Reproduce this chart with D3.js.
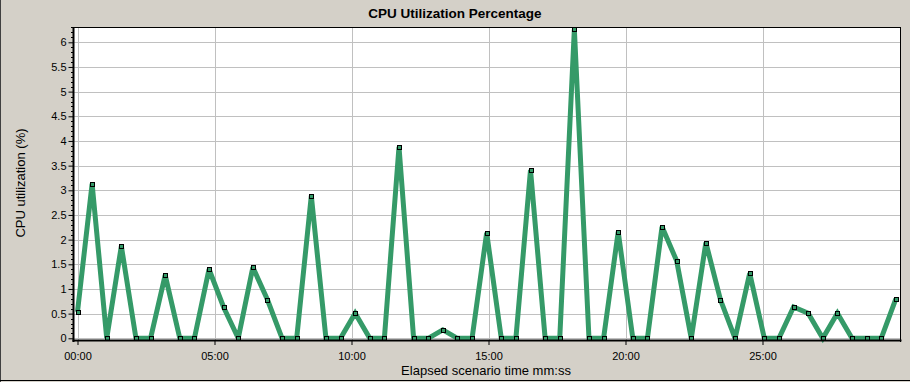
<!DOCTYPE html>
<html>
<head>
<meta charset="utf-8">
<script src="https://cdn.jsdelivr.net/npm/d3@7/dist/d3.min.js"></script>
<style>
  html, body { margin: 0; padding: 0; background: #d4d0c8; }
  svg { display: block; }
  text { font-family: Arial, "Liberation Sans", sans-serif; fill: #000; }
</style>
</head>
<body>
<svg id="chart" width="910" height="382"></svg>
<script>
// ---- data ----
const title = "CPU Utilization Percentage";
const xLabel = "Elapsed scenario time mm:ss";
const yLabel = "CPU utilization (%)";
const sampleIntervalSec = 32;
const cpuValues = [
  0.54, 3.13, 0, 1.87, 0, 0, 1.28, 0, 0, 1.40, 0.63, 0, 1.44, 0.78, 0, 0, 2.89,
  0, 0, 0.51, 0, 0, 3.88, 0, 0, 0.17, 0, 0, 2.14, 0, 0, 3.41, 0, 0,
  6.26, 0, 0, 2.16, 0, 0, 2.26, 1.57, 0, 1.94, 0.78, 0, 1.32, 0, 0, 0.635, 0.51, 0, 0.51, 0, 0, 0, 0.80
];
const xTickSeconds = [0, 300, 600, 900, 1200, 1500];
const xTickLabels = ["00:00", "05:00", "10:00", "15:00", "20:00", "25:00"];
const yTicks = [0, 0.5, 1, 1.5, 2, 2.5, 3, 3.5, 4, 4.5, 5, 5.5, 6];
const yTickLabels = ["0", "0.5", "1", "1.5", "2", "2.5", "3", "3.5", "4", "4.5", "5", "5.5", "6"];

const points = cpuValues.map((v, i) => ({ t: i * sampleIntervalSec, v }));

// ---- layout ----
const svg = d3.select("#chart");
const W = 910, H = 382;
const plot = { left: 74, top: 28, right: 900, bottom: 340 };

const x = d3.scaleLinear().domain([0, 1800]).range([77.5, 899.5]);
const y = d3.scaleLinear().domain([0, 6]).range([338.3, 42.3]);

// outer frame lines
svg.append("rect").attr("x", 0).attr("y", 0).attr("width", W).attr("height", H).attr("fill", "#d4d0c8");
svg.append("line").attr("x1", 0.5).attr("x2", 0.5).attr("y1", 0).attr("y2", H).attr("stroke", "#404040");
svg.append("line").attr("x1", 0).attr("x2", W).attr("y1", 380.5).attr("y2", 380.5).attr("stroke", "#000");

// plot background
svg.append("rect")
  .attr("x", plot.left).attr("y", plot.top)
  .attr("width", plot.right - plot.left).attr("height", plot.bottom - plot.top)
  .attr("fill", "#fff");

// grid
const grid = svg.append("g").attr("shape-rendering", "crispEdges");
grid.selectAll("line.h").data(yTicks).join("line")
  .attr("x1", plot.left).attr("x2", plot.right)
  .attr("y1", d => Math.round(y(d)) + 0.5).attr("y2", d => Math.round(y(d)) + 0.5)
  .attr("stroke", "#c0c0c0").attr("stroke-width", 1);
grid.selectAll("line.v").data(xTickSeconds).join("line")
  .attr("x1", d => Math.round(x(d)) + 0.5).attr("x2", d => Math.round(x(d)) + 0.5)
  .attr("y1", plot.top).attr("y2", plot.bottom)
  .attr("stroke", "#c0c0c0").attr("stroke-width", 1);

// data line
const line = d3.line().x(d => x(d.t)).y(d => y(d.v));
svg.append("path")
  .datum(points)
  .attr("d", line)
  .attr("fill", "none")
  .attr("stroke", "#359a68")
  .attr("stroke-width", 5)
  .attr("stroke-linejoin", "miter")
  .attr("stroke-miterlimit", 2);

// markers
svg.append("g").selectAll("rect").data(points).join("rect")
  .attr("x", d => Math.round(x(d.t)) - 2 + 0.5)
  .attr("y", d => Math.round(y(d.v)) - 2 + 0.5)
  .attr("width", 4).attr("height", 4)
  .attr("fill", "#359a68").attr("stroke", "#000").attr("stroke-width", 1)
  .attr("shape-rendering", "crispEdges");

// frame
const frame = svg.append("g").attr("shape-rendering", "crispEdges");
frame.append("line").attr("x1", plot.left).attr("x2", plot.right + 1)
  .attr("y1", 27.5).attr("y2", 27.5).attr("stroke", "#000");
frame.append("line").attr("x1", 900.5).attr("x2", 900.5)
  .attr("y1", 27).attr("y2", 342).attr("stroke", "#000");

// y axis
const yAxis = d3.axisLeft(y).tickValues(yTicks)
  .tickFormat((d, i) => yTickLabels[i]).tickSize(5).tickPadding(2);
const yg = svg.append("g").attr("transform", "translate(73.5,0)").call(yAxis);
yg.select(".domain").remove();
yg.selectAll("text").style("font-size", "11px").style("font-family", "Arial, 'Liberation Sans', sans-serif");
yg.selectAll("line").attr("stroke", "#000");
// minor ticks
const minor = d3.range(0, 64).map(i => i / 10).filter(v => Math.abs(v * 2 - Math.round(v * 2)) > 1e-6);
svg.append("g").selectAll("line").data(minor).join("line")
  .attr("x1", 71).attr("x2", 73)
  .attr("y1", d => Math.round(y(d)) + 0.5).attr("y2", d => Math.round(y(d)) + 0.5)
  .attr("stroke", "#000").attr("shape-rendering", "crispEdges");
svg.append("rect").attr("x", 72.5).attr("y", 27).attr("width", 2).attr("height", 315).attr("fill", "#000");

// x axis
const xAxis = d3.axisBottom(x).tickValues(xTickSeconds)
  .tickFormat((d, i) => xTickLabels[i]).tickSize(5).tickPadding(7);
const xg = svg.append("g").attr("transform", "translate(0,340)").call(xAxis);
xg.select(".domain").remove();
xg.selectAll("text").style("font-size", "11px").style("font-family", "Arial, 'Liberation Sans', sans-serif");
xg.selectAll("line").attr("stroke", "#000");
svg.append("rect").attr("x", 72.5).attr("y", 339.5).attr("width", 829).attr("height", 2).attr("fill", "#000");

// titles
svg.append("text").attr("x", 455).attr("y", 18).attr("text-anchor", "middle")
  .style("font-size", "13.5px").style("font-weight", "bold").text(title);
svg.append("text").attr("x", 486).attr("y", 375).attr("text-anchor", "middle")
  .style("font-size", "13px").text(xLabel);
svg.append("text").attr("transform", "translate(25,183) rotate(-90)").attr("text-anchor", "middle")
  .style("font-size", "13px").text(yLabel);
</script>
</body>
</html>
